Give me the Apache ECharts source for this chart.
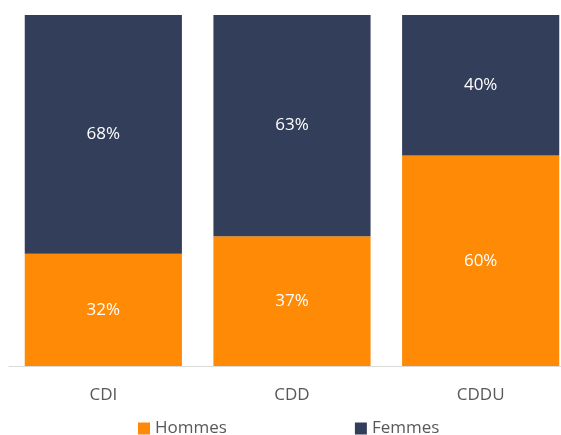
<!DOCTYPE html>
<html>
<head>
<meta charset="utf-8">
<script src="https://cdn.jsdelivr.net/npm/echarts@6/dist/echarts.min.js"></script>
<style>
  html, body { margin: 0; padding: 0; background: #fff; overflow: hidden; }
  #main { width: 576px; height: 435px; }
</style>
</head>
<body>
<div id="main"></div>
<script>
// contrats et part hommes / femmes (%)
const categories = ['CDI', 'CDD', 'CDDU'];
const hommes = [32, 37, 60];
const femmes = [68, 63, 40];

const labelStyle = {
    show: true,
    position: 'inside',
    color: '#ffffff',
    fontSize: 17,
    fontFamily: 'Open Sans',
    formatter: '{c}%'
};

// the plot runs a little past the right edge of the window, like the source
const chart = echarts.init(document.getElementById('main'));
chart.setOption({
    animation: false,
    grid: {
        left: 9,
        right: 1,
        top: 15,
        bottom: 69,
        containLabel: false
    },
    legend: {
        bottom: -7,
        left: 133,
        itemWidth: 12,
        itemHeight: 12,
        itemGap: 128,
        icon: 'rect',
        textStyle: {
            color: '#595959',
            fontSize: 17,
            fontFamily: 'Open Sans'
        },
        data: ['Hommes', 'Femmes']
    },
    xAxis: {
        type: 'category',
        data: categories,
        axisTick: { show: false },
        axisLine: {
            lineStyle: { color: '#d9d9d9', width: 1 }
        },
        axisLabel: {
            color: '#595959',
            fontSize: 17,
            fontFamily: 'Open Sans',
            margin: 21
        }
    },
    yAxis: {
        type: 'value',
        min: 0,
        max: 100,
        show: false,
        splitLine: { show: false }
    },
    series: [
        {
            name: 'Hommes',
            type: 'bar',
            stack: 'total',
            barCategoryGap: '16.7%',
            data: hommes,
            itemStyle: { color: '#FF8A05' },
            label: labelStyle
        },
        {
            name: 'Femmes',
            type: 'bar',
            stack: 'total',
            barCategoryGap: '16.7%',
            data: femmes,
            itemStyle: { color: '#333F5A' },
            label: labelStyle
        }
    ]
});
</script>
</body>
</html>
